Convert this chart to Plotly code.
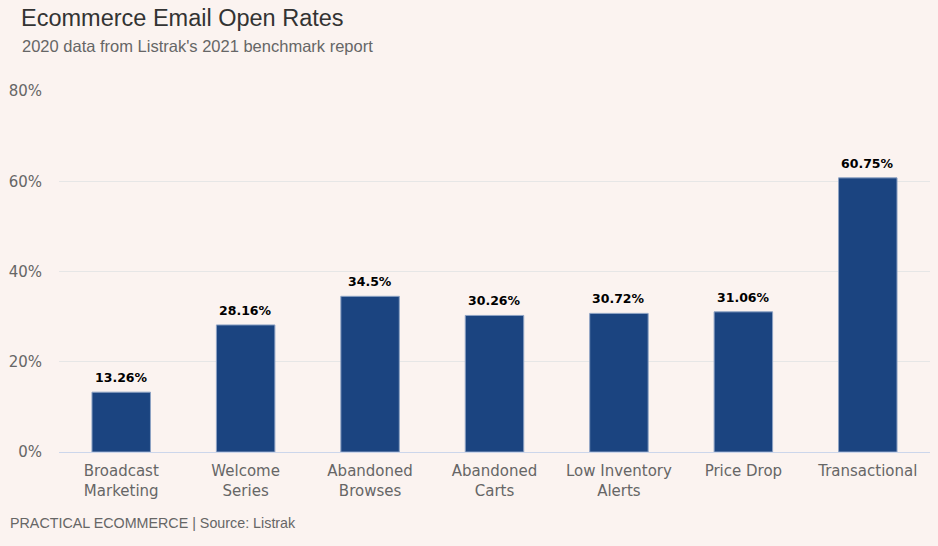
import plotly.graph_objects as go

categories = ["Broadcast<br>Marketing", "Welcome<br>Series", "Abandoned<br>Browses",
              "Abandoned<br>Carts", "Low Inventory<br>Alerts", "Price Drop", "Transactional"]
open_rates = [13.26, 28.16, 34.5, 30.26, 30.72, 31.06, 60.75]
labels = ["13.26%", "28.16%", "34.5%", "30.26%", "30.72%", "31.06%", "60.75%"]
y_ticks = [0, 20, 40, 60, 80]
y_tick_labels = ["0%", "20%", "40%", "60%", "80%"]

bg = "#fbf3f0"
fig = go.Figure(go.Bar(
    x=categories, y=open_rates,
    marker=dict(color="#1b4480", line=dict(color="#8ea3c4", width=1)),
    cliponaxis=False, hoverinfo="x+y",
))

plot_h = 546 - 91 - 94
plot_w = 938 - 59 - 8

annotations = [
    dict(text="2020 data from Listrak's 2021 benchmark report", xref="paper", yref="paper",
         x=(20 - 59) / plot_w, y=1.0 + (91 - 46) / plot_h, xanchor="left", yanchor="middle", showarrow=False,
         font=dict(family="Liberation Sans", size=16.5, color="#666666")),
    dict(text="PRACTICAL ECOMMERCE | Source: Listrak", xref="paper", yref="paper",
         x=(8 - 59) / plot_w, y=-(523 - 452) / plot_h, xanchor="left", yanchor="middle", showarrow=False,
         font=dict(family="Liberation Sans", size=14.3, color="#666666")),
]
for cat, val, lab in zip(categories, open_rates, labels):
    annotations.append(dict(x=cat, y=val, text="<b>" + lab + "</b>", showarrow=False,
                            xanchor="center", yanchor="bottom", yshift=5,
                            font=dict(family="DejaVu Sans", size=12.5, color="#000000")))

fig.update_layout(
    width=938, height=546,
    paper_bgcolor=bg, plot_bgcolor=bg,
    margin=dict(l=59, r=8, t=91, b=94),
    bargap=0.53,
    showlegend=False,
    font=dict(family="DejaVu Sans", color="#666666"),
    title=dict(text="Ecommerce Email Open Rates", x=21 / 938, xanchor="left", y=1 - 18 / 546, yanchor="middle",
               font=dict(family="Liberation Sans", size=23.5, color="#333333")),
    annotations=annotations,
)
fig.update_xaxes(showgrid=False, showline=True, linecolor="#ccd6eb", linewidth=1,
                 tickfont=dict(family="DejaVu Sans", size=15, color="#666666"), ticks="",
                 ticklabelstandoff=5)
fig.update_yaxes(range=[0, 80], tickvals=y_ticks, ticktext=y_tick_labels, showgrid=True,
                 gridcolor="#e6e6e6", gridwidth=1, zeroline=False, ticks="",
                 tickfont=dict(family="DejaVu Sans", size=15, color="#666666"), ticklabelstandoff=16)

fig.write_html("out.html", config={"displayModeBar": False},
               post_script="document.body.style.margin='0';")
